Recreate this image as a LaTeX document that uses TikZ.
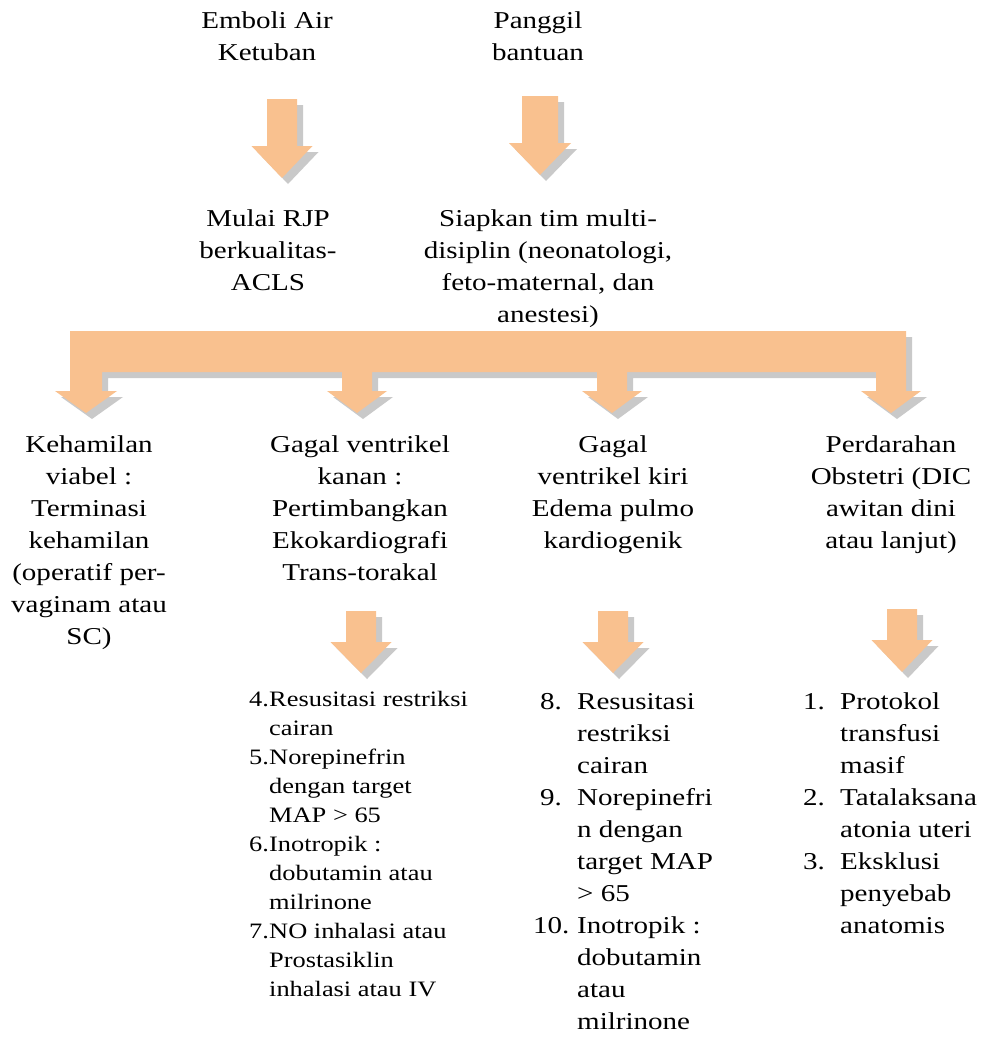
\documentclass[tikz,border=0pt]{standalone}
\usepackage{fontspec}
\setmainfont{Liberation Serif}
\usepackage{graphicx}
\definecolor{arrowfill}{RGB}{249,193,143}
\definecolor{shadowfill}{RGB}{201,201,201}
\newcommand\X[1]{\scalebox{1.2}[1]{#1}}
\tikzset{
  txt/.style={inner sep=0pt, anchor=base, font=\fontsize{24.2}{32}\selectfont},
  listtxt/.style={txt, anchor=base west},
  smalltxt/.style={inner sep=0pt, anchor=base west, font=\fontsize{22}{28}\selectfont},
  blockarrow/.style={fill=arrowfill, draw=none},
  blockshadow/.style={fill=shadowfill, draw=none},
}
% down block arrow: centre x, top y, shaft width, head base y, head width, tip y
\newcommand\dnarrow[6]{%
  \foreach \s/\o in {blockshadow/6, blockarrow/0}{%
    \fill[\s, shift={(\o,\o)}] ({#1-#3/2},#2) -- ({#1+#3/2},#2) -- ({#1+#3/2},#4) -- ({#1+#5/2},#4)
      -- (#1,#6) -- ({#1-#5/2},#4) -- ({#1-#3/2},#4) -- cycle;}%
}
\begin{document}
\begin{tikzpicture}[x=1pt,y=-1pt]
\fill[white] (0,0) rectangle (985,1039);
\useasboundingbox (0,0) rectangle (985,1039);

% ---------- top texts ----------
\foreach \t [count=\i from 0] in {Emboli Air, Ketuban}
  \node[txt] (emboli-\i) at (267,{28+32*\i}) {\X{\t}};
\foreach \t [count=\i from 0] in {Panggil, bantuan}
  \node[txt] (panggil-\i) at (538,{28+32*\i}) {\X{\t}};
\foreach \t [count=\i from 0] in {Mulai RJP, berkualitas-, ACLS}
  \node[txt] (rjp-\i) at (268,{226+32*\i}) {\X{\t}};
\foreach \t [count=\i from 0] in {Siapkan tim multi-, {disiplin (neonatologi,}, {feto-maternal, dan}, {anestesi)}}
  \node[txt] (tim-\i) at (548,{226+32*\i}) {\X{\t}};

% ---------- top arrows ----------
\dnarrow{282}{99}{30}{146}{61}{178}
\dnarrow{540}{96}{36}{143}{62}{175}

% ---------- bracket arrow ----------
\foreach \s/\o in {blockshadow/6, blockarrow/0}{%
  \fill[\s, shift={(\o,\o)}] (70,331) -- (906,331) -- (906,391) -- (921,391) -- (891,413) -- (861,391)
    -- (876,391) -- (876,372) -- (627,372) -- (627,391) -- (642,391) -- (612,413) -- (582,391)
    -- (597,391) -- (597,372) -- (372,372) -- (372,391) -- (387,391) -- (357,413) -- (327,391)
    -- (342,391) -- (342,372) -- (102,372) -- (102,391) -- (117,391) -- (86,413) -- (55,391)
    -- (70,391) -- cycle;}

% ---------- second row texts ----------
\foreach \t [count=\i from 0] in {Kehamilan, {viabel :}, Terminasi, kehamilan, {(operatif per-}, vaginam atau, {SC)}}
  \node[txt] (hamil-\i) at (89,{452+32*\i}) {\X{\t}};
\foreach \t [count=\i from 0] in {Gagal ventrikel, {kanan :}, Pertimbangkan, Ekokardiografi, Trans-torakal}
  \node[txt] (kanan-\i) at (360,{452+32*\i}) {\X{\t}};
\foreach \t [count=\i from 0] in {Gagal, ventrikel kiri, Edema pulmo, kardiogenik}
  \node[txt] (kiri-\i) at (613,{452+32*\i}) {\X{\t}};
\foreach \t [count=\i from 0] in {Perdarahan, {Obstetri (DIC}, awitan dini, {atau lanjut)}}
  \node[txt] (darah-\i) at (891,{452+32*\i}) {\X{\t}};

% ---------- lower arrows ----------
\dnarrow{361}{611}{30}{642}{61}{673}
\dnarrow{613}{611}{30}{642}{61}{673}
\dnarrow{902}{609}{30}{640}{61}{672}

% ---------- lists ----------
\foreach \n/\t [count=\i from 0] in {4./Resusitasi restriksi, /cairan, 5./Norepinefrin, /dengan target,
    /MAP > 65, 6./{Inotropik :}, /dobutamin atau, /milrinone, 7./NO inhalasi atau, /Prostasiklin, /inhalasi atau IV}{
  \ifx\n\empty\else\node[smalltxt] (la-n\i) at (249,{706+29*\i}) {\X{\n}};\fi
  \node[smalltxt] (la-\i) at (269,{706+29*\i}) {\X{\t}};
}
\foreach \n/\t [count=\i from 0] in {8./Resusitasi, /restriksi, /cairan, 9./Norepinefri, /n dengan,
    /target MAP, /> 65, /{Inotropik :}, /dobutamin, /atau, /milrinone}{
  \ifx\n\empty\else\node[listtxt] (lb-n\i) at (540,{709+32*\i}) {\X{\n}};\fi
  \node[listtxt] (lb-\i) at (577,{709+32*\i}) {\X{\t}};
}
\node[listtxt] (lb-n7) at (533,{709+32*7}) {\X{10.}};
\foreach \n/\t [count=\i from 0] in {1./Protokol, /transfusi, /masif, 2./Tatalaksana, /atonia uteri,
    3./Eksklusi, /penyebab, /anatomis}{
  \ifx\n\empty\else\node[listtxt] (lc-n\i) at (803,{709+32*\i}) {\X{\n}};\fi
  \node[listtxt] (lc-\i) at (840,{709+32*\i}) {\X{\t}};
}
\end{tikzpicture}
\end{document}
